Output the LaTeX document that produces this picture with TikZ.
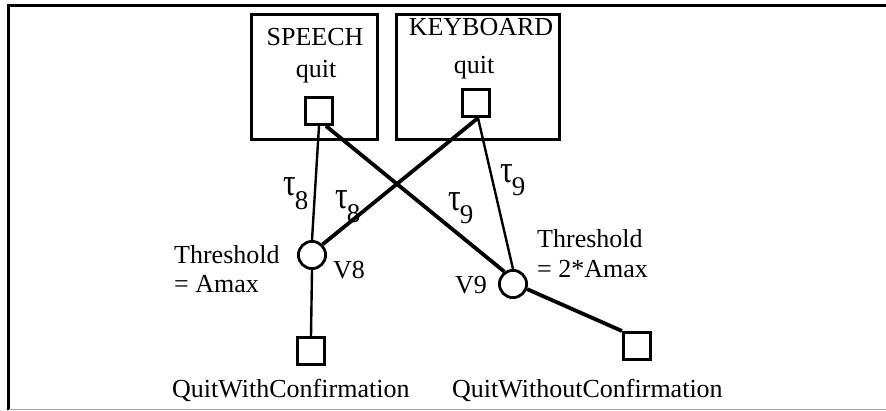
\documentclass[tikz,border=0pt]{standalone}
\usepackage{fontspec}
\usepackage{graphicx}
\setmainfont{Liberation Serif}
\newcommand{\tauweight}[2]{\scalebox{1.05}[1.3]{τ}\kern-1pt\raisebox{#2}{\fontsize{27}{30}\selectfont #1}}
\begin{document}
\begin{tikzpicture}[x=1pt,y=-1pt,
  lbl/.style={font=\fontsize{26}{30}\selectfont, inner sep=0pt},
  taulbl/.style={font=\fontsize{30}{34}\selectfont, inner sep=0pt, anchor=base west},
  modbox/.style={draw, line width=2.8pt, inner sep=0pt},
  port/.style={draw, line width=2.8pt, minimum size=27.2pt, inner sep=0pt},
  junction/.style={draw, circle, line width=2.8pt, minimum size=27.2pt, inner sep=0pt},
  lightlink/.style={line width=2.4pt},
  heavylink/.style={line width=3.8pt}]
\useasboundingbox (0,0) rectangle (886,410);
% page frame
\draw[line width=3pt] (8.5,410) -- (8.5,5.5) -- (886,5.5);
\draw[line width=1pt, black!35] (8.5,409) -- (886,409);

% input modalities
\node[modbox, minimum width=126pt, minimum height=125pt] (speech) at (314.5,77) {};
\node[modbox, minimum width=163pt, minimum height=125pt] (keyboard) at (478,77) {};
\node[lbl, anchor=base] (speechlbl) at (315,45) {SPEECH};
\node[lbl, anchor=base] (keyboardlbl) at (481,35) {KEYBOARD};
\node[lbl, anchor=base] (quitS) at (316,77) {quit};
\node[lbl, anchor=base] (quitK) at (474,73) {quit};
\node[port] (sq1) at (319,111) {};
\node[port] (sq2) at (476,103) {};

% voting junctions
\node[junction] (v8) at (312,255) {};
\node[junction] (v9) at (513,284) {};

% outputs
\node[port] (sq3) at (311,351) {};
\node[port] (sq4) at (637,346) {};

% connectors
\draw[lightlink] (sq1.south) -- (v8.north);
\draw[heavylink] ([xshift=7pt]sq1.south) -- (v9.125);
\draw[heavylink] ([xshift=2pt]sq2.south) -- (v8.45);
\draw[lightlink] ([xshift=2pt]sq2.south) -- (v9.north);
\draw[lightlink] (v8.south) -- (sq3.north);
\draw[heavylink] (v9.-20) -- (sq4.north west);

% weights
\node[taulbl] (t8a) at (283,195) {\tauweight{8}{-14pt}};
\node[taulbl] (t8b) at (335,208) {\tauweight{8}{-14pt}};
\node[taulbl] (t9a) at (448,210) {\tauweight{9}{-13pt}};
\node[taulbl] (t9b) at (500,182) {\tauweight{9}{-13pt}};

% junction labels
\node[lbl, anchor=base west] (v8lbl) at (333,278) {V8};
\node[lbl, anchor=base west] (v9lbl) at (455,293) {V9};
\node[lbl, anchor=base west] (th8a) at (174,263) {Threshold};
\node[lbl, anchor=base west] (th8b) at (174,292) {= Amax};
\node[lbl, anchor=base west] (th9a) at (537,247) {Threshold};
\node[lbl, anchor=base west] (th9b) at (537,277) {= 2*Amax};

% output labels
\node[lbl, anchor=base west] (out1) at (172,397) {QuitWithConfirmation};
\node[lbl, anchor=base west] (out2) at (452,397) {QuitWithoutConfirmation};
\end{tikzpicture}
\end{document}
